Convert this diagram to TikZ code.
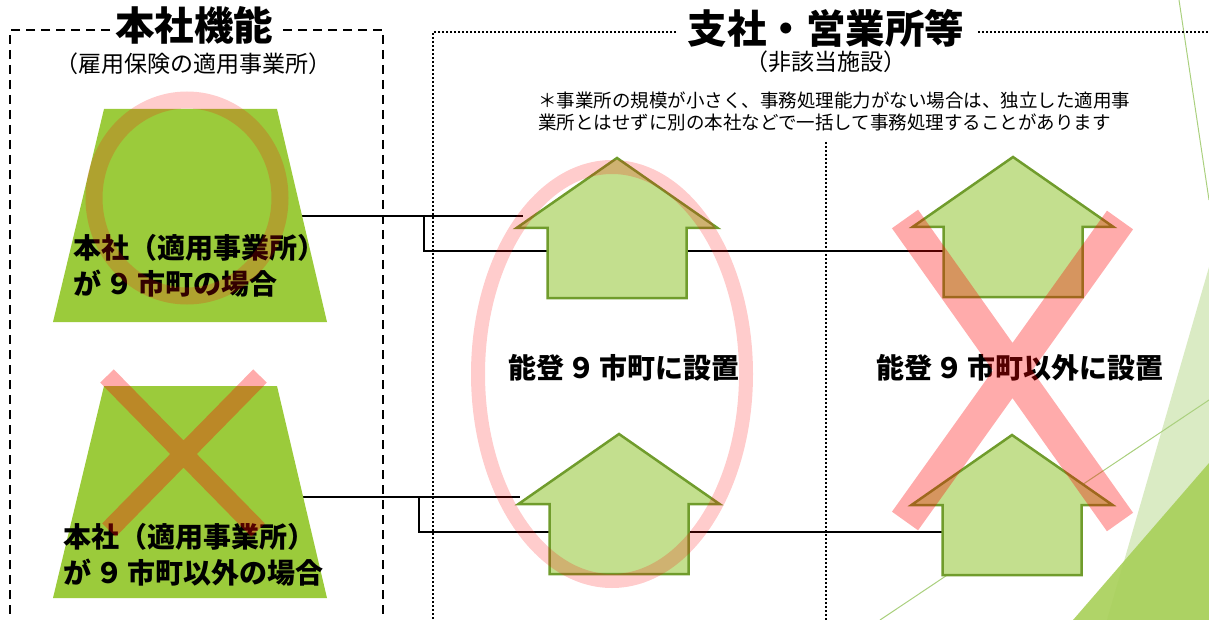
\documentclass[tikz,border=0pt]{standalone}
\usepackage{fontspec}
\setmainfont{Noto Sans CJK JP}
\definecolor{trapgreen}{RGB}{155,203,59}
\definecolor{housefill}{RGB}{195,223,142}
\definecolor{housedraw}{RGB}{112,156,44}
\definecolor{palegreen}{RGB}{218,235,196}
\definecolor{deepgreen}{RGB}{169,208,91}
\definecolor{thingreen}{RGB}{170,208,126}
\tikzset{
  housest/.style={fill=housefill, draw=housedraw, line width=2.5pt, line join=miter},
  house/.pic={\path[housest] (0,0) -- (100.5,70) -- (69.5,70) -- (69.5,140) -- (-69.5,140) -- (-69.5,70) -- (-100.5,70) -- cycle;},
  trap/.style={fill=trapgreen},
  ringst/.style={draw=red, draw opacity=0.2, line width=#1},
  crossst/.style={draw=red, draw opacity=0.33, line width=#1, line cap=butt},
  conn/.style={draw=black, line width=1.3pt},
  dashbox/.style={line width=2.5pt, dash pattern=on 9pt off 6pt},
  dotbox/.style={line width=1.6pt, dash pattern=on 1.6pt off 2.4pt},
  lab/.style={font=\fontsize{28}{36}\selectfont\bfseries, align=left, inner sep=0pt},
  ttl/.style={font=\fontsize{39.5}{40}\selectfont\bfseries, inner sep=0pt},
  sub/.style={font=\fontsize{23}{24}\selectfont, inner sep=0pt},
  thinl/.style={draw=thingreen, line width=1pt},
}
\newcommand{\nine}{\kern4pt ９\kern4pt}
\begin{document}
\begin{tikzpicture}[x=1pt,y=-1pt]
\useasboundingbox (0,0) rectangle (1209,620);
\begin{scope}
\clip (0,0) rectangle (1209,620);
% background decoration
\fill[palegreen] (1209,267) -- (1107,620) -- (1209,620) -- cycle;
\fill[deepgreen, opacity=0.92] (1209,463) -- (1073,620) -- (1209,620) -- cycle;
\draw[thinl] (1179,0) -- (1209,200);
\draw[thinl] (880,620) -- (1209,400);

% titles and boxes
\node[ttl] (t1) at (194,25) {本社機能};
\node[sub] (s1) at (193,64) {（雇用保険の適用事業所）};
\draw[dashbox] (110,30) -- (10,30) -- (10,622);
\draw[dashbox] (283,30) -- (383,30) -- (383,622);

\node[ttl] (t2) at (826,28) {支社・営業所等};
\node[sub] (s2) at (826,62) {（非該当施設）};
\draw[dotbox] (676,32) -- (433,32) -- (433,622);
\draw[dotbox] (978,32) -- (1212,32);
\draw[dotbox] (826,142) -- (826,622);

\node[font=\fontsize{18.5}{22}\selectfont, align=left, anchor=west, inner sep=0pt] (note) at (538,111)
  {＊事業所の規模が小さく、事務処理能力がない場合は、独立した適用事\\業所とはせずに別の本社などで一括して事務処理することがあります};

% connectors
\coordinate (a1) at (302,216);
\coordinate (m1) at (523,216);
\coordinate (j1) at (424,216);
\coordinate (r1) at (943,251);
\coordinate (a2) at (303,497);
\coordinate (m2) at (520,497);
\coordinate (j2) at (419,497);
\coordinate (r2) at (943,532);
\draw[conn] (a1) -- (m1);
\draw[conn] (j1) |- (r1);
\draw[conn] (a2) -- (m2);
\draw[conn] (j2) |- (r2);

% left trapezoids
\fill[trap] (104,109) -- (277,109) -- (327,322) -- (53,322) -- cycle;
\fill[trap] (104,386) -- (277,386) -- (327,598) -- (53,598) -- cycle;
\node[lab, anchor=west] (l1) at (73,266) {本社（適用事業所）\\が\nine 市町の場合};
\node[lab, anchor=west] (l2) at (63,555) {本社（適用事業所）\\が\nine 市町以外の場合};
\draw[ringst=17pt] (187,198) ellipse [x radius=93pt, y radius=98pt];
\draw[crossst=19pt] (107,376) -- (258,530) (260,376) -- (109,530);

% houses
\pic at (617,158) {house};
\pic at (619,434) {house};
\pic at (1013,157) {house};
\pic at (1012,435) {house};

\node[lab] (l3) at (624,368) {能登\nine 市町に設置};
\node[lab] (l4) at (1020,368) {能登\nine 市町以外に設置};

\draw[ringst=14pt] (612,374) ellipse [x radius=134pt, y radius=207pt];
\draw[crossst=32pt] (905,219) -- (1120,522) (1120,220) -- (905,521);
\end{scope}
\end{tikzpicture}
\end{document}
